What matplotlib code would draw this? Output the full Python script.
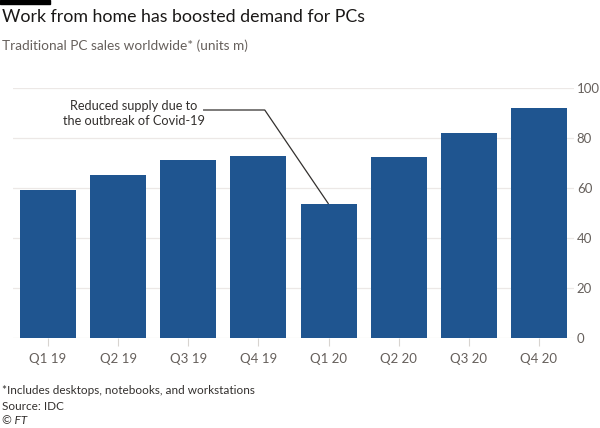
import matplotlib
matplotlib.use("Agg")
import matplotlib.pyplot as plt

categories = ["Q1 19", "Q2 19", "Q3 19", "Q4 19", "Q1 20", "Q2 20", "Q3 20", "Q4 20"]
values = [59.2, 65.2, 71.2, 72.8, 53.6, 72.6, 82.0, 92.0]
yticks = [0, 20, 40, 60, 80, 100]

plt.rcParams['font.family'] = ['Lato', 'DejaVu Sans']

fig = plt.figure(figsize=(6, 4.28), dpi=100)
fig.patch.set_facecolor("white")
ax = fig.add_axes([13/600, 90/428, 561/600, 250/428])
ax.set_facecolor("white")

x = list(range(len(categories)))
ax.bar(x, values, width=0.8, color="#1f5590", zorder=3)
ax.set_xlim(-0.5, len(categories) - 0.5)
ax.set_ylim(0, 100)
ax.set_yticks(yticks)
ax.yaxis.tick_right()
ax.set_yticklabels([str(v) for v in yticks], color="#66605c", fontsize=9.5)
ax.tick_params(axis="y", length=0, pad=2)
ax.grid(axis="y", color="#ece8e6", linewidth=0.9, zorder=0)
ax.set_xticks(x)
ax.set_xticklabels(categories, color="#66605c", fontsize=9.5)
ax.tick_params(axis="x", length=6, color="#d8d4d0", pad=5)
for s in ax.spines.values():
    s.set_visible(False)

# annotation
ax.text(1.225, 89.8, "Reduced supply due to\nthe outbreak of Covid-19",
        ha="center", va="center", multialignment="center", fontsize=9.2,
        color="#33302e", linespacing=1.25)
idx = categories.index("Q1 20")
ax.plot([2.21, 3.09, x[idx]], [91.2, 91.2, values[idx]],
        color="#33302e", lw=0.9, zorder=4, solid_capstyle="butt")

# title block
fig.add_artist(plt.Rectangle((0, 1 - 4/428), 50/600, 4/428, transform=fig.transFigure,
                             color="black"))
fig.text(2/600, 1 - 17/428, "Work from home has boosted demand for PCs",
         fontsize=12.8, color="#1a1817", va="center", ha="left")
fig.text(2/600, 1 - 46/428, "Traditional PC sales worldwide* (units m)",
         fontsize=9.8, color="#66605c", va="center", ha="left")

fig.text(2/600, 1 - 390/428, "*Includes desktops, notebooks, and workstations",
         fontsize=8.5, color="#33302e", va="center", ha="left")
fig.text(2/600, 1 - 406/428, "Source: IDC",
         fontsize=8.5, color="#33302e", va="center", ha="left")
fig.text(2/600, 1 - 421/428, "© FT",
         fontsize=8.5, color="#33302e", va="center", ha="left", style="italic")

fig.savefig("out.png", dpi=100, facecolor="white")
